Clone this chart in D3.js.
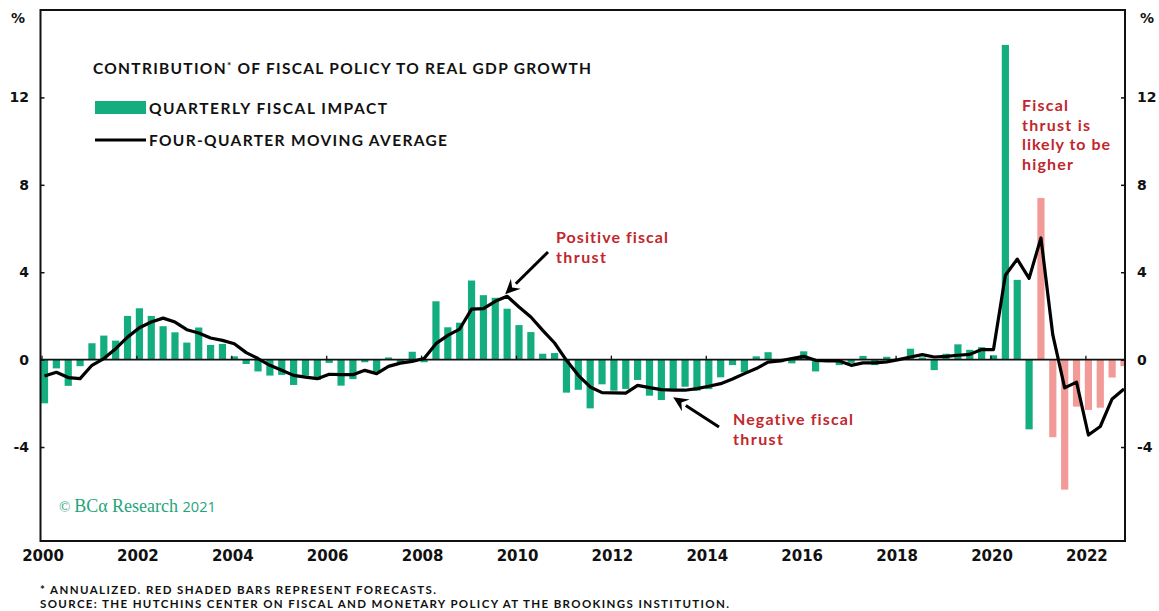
<!DOCTYPE html>
<html>
<head>
<meta charset="utf-8">
<script src="https://cdn.jsdelivr.net/npm/d3@7"></script>
<style>
  body { margin: 0; background: #ffffff; }
  svg { display: block; }
</style>
</head>
<body>
<svg id="chart" width="1159" height="611"></svg>
<script>
// Quarterly periods, 2000Q1 .. 2022Q4 (decimal years)
const startYear = 2000;
const quarterCount = 92;
const quarters = d3.range(quarterCount).map(i => startYear + i / 4);

// Quarterly fiscal impact, % annualized
const fiscalImpact = [
  -2.0, -0.4, -1.2, -0.3,     // 2000
  0.75, 1.1, 0.87, 2.0,       // 2001
  2.35, 2.0, 1.53, 1.25,      // 2002
  0.78, 1.47, 0.67, 0.72,     // 2003
  0.15, -0.2, -0.54, -0.73,   // 2004
  -0.7, -1.16, -0.73, -0.93,  // 2005
  -0.15, -1.19, -0.89, -0.12, // 2006
  -0.55, 0.1, -0.12, 0.36,    // 2007
  -0.12, 2.67, 1.48, 1.69,    // 2008
  3.62, 2.95, 2.83, 2.33,     // 2009
  1.58, 1.26, 0.27, 0.3,      // 2010
  -1.51, -1.38, -2.23, -1.13, // 2011
  -1.42, -1.34, -0.93, -1.65, // 2012
  -1.85, -1.39, -1.24, -1.42, // 2013
  -1.35, -0.81, -0.25, -0.58, // 2014
  0.15, 0.34, -0.12, -0.17,   // 2015
  0.38, -0.54, -0.1, -0.25,   // 2016
  -0.15, 0.17, -0.25, 0.13,   // 2017
  0.05, 0.5, 0.1, -0.48,      // 2018
  0.27, 0.7, 0.45, 0.57,      // 2019
  0.2, 14.4, 3.65, -3.19,     // 2020
  7.4, -3.55, -5.95, -2.15,   // 2021
  -2.3, -2.2, -0.82, -0.3     // 2022
];

// Four-quarter moving average, %
const movingAverage = [
  -0.75, -0.58, -0.82, -0.87,
  -0.26, 0.05, 0.5, 1.03,
  1.46, 1.72, 1.9, 1.72,
  1.37, 1.22, 0.99, 0.88,
  0.73, 0.32, 0.05, -0.26,
  -0.49, -0.72, -0.8, -0.87,
  -0.67, -0.69, -0.69, -0.49,
  -0.64, -0.31, -0.16, -0.08,
  0.05, 0.73, 1.11, 1.4,
  2.31, 2.33, 2.67, 2.9,
  2.41, 1.95, 1.34, 0.76,
  -0.03, -0.72, -1.25, -1.51,
  -1.52, -1.53, -1.18, -1.28,
  -1.37, -1.4, -1.4, -1.33,
  -1.22, -1.1, -0.89, -0.64,
  -0.41, -0.11, -0.06, 0.05,
  0.15, -0.03, -0.06, -0.06,
  -0.26, -0.15, -0.15, -0.1,
  0.0, 0.12, 0.23, 0.12,
  0.15, 0.2, 0.24, 0.46,
  0.46, 3.86, 4.6, 3.72,
  5.57, 1.13, -1.29, -1.03,
  -3.45, -3.06, -1.8, -1.34
];

// Bars from this quarter on are forecasts
const forecastStart = 2021;

const yTicks = [-4, 0, 4, 8, 12];
const yearTicks = d3.range(2000, 2023, 2);

const legendLabels = ["QUARTERLY FISCAL IMPACT", "FOUR-QUARTER MOVING AVERAGE"];
const footnotes = [
  "* ANNUALIZED. RED SHADED BARS REPRESENT FORECASTS.",
  "SOURCE: THE HUTCHINS CENTER ON FISCAL AND MONETARY POLICY AT THE BROOKINGS INSTITUTION."
];
const positiveNote = ["Positive fiscal", "thrust"];
const negativeNote = ["Negative fiscal", "thrust"];
const forecastNote = ["Fiscal", "thrust is", "likely to be", "higher"];

// ---- layout ----
const frame = { left: 40.5, right: 1125, top: 10, bottom: 541 };
const green = "#14ad80";
const pink = "#f29a98";
const red = "#c1272d";
const ink = "#111111";

const svg = d3.select("#chart");

// spread a text's letters so that it spans the given width
function fitWidth(sel, width) {
  sel.each(function () {
    const n = this.getNumberOfChars();
    const w = this.getComputedTextLength();
    if (n > 1) d3.select(this).attr("letter-spacing", Math.max(0, (width - w) / (n - 1)));
  });
}

const x = d3.scaleLinear()
  .domain([2000, 2023])
  .range([41.5, 41.5 + 23 * 47.45]);
const y = d3.scaleLinear()
  .domain([-8.3, 16])
  .range([frame.bottom, frame.top]);

const barW = 7.2;
const barX = t => x(t) - 0.6;
const centerX = t => barX(t) + barW / 2;

const rows = quarters.map((t, i) => ({ t, v: fiscalImpact[i], ma: movingAverage[i] }));

svg.append("defs").append("clipPath").attr("id", "plotClip")
  .append("rect")
  .attr("x", frame.left).attr("y", frame.top)
  .attr("width", frame.right - frame.left).attr("height", frame.bottom - frame.top);

const plot = svg.append("g").attr("clip-path", "url(#plotClip)");

// bars
plot.append("g").selectAll("rect")
  .data(rows)
  .join("rect")
  .attr("x", d => barX(d.t))
  .attr("width", barW)
  .attr("y", d => y(Math.max(0, d.v)))
  .attr("height", d => Math.abs(y(d.v) - y(0)))
  .attr("fill", d => d.t >= forecastStart ? pink : green);

// zero line with year ticks
const xAxis = d3.axisTop(x)
  .tickValues(yearTicks)
  .tickSize(4)
  .tickFormat("");
const zeroAxis = plot.append("g")
  .attr("transform", `translate(0,${y(0)})`)
  .call(xAxis);
zeroAxis.select(".domain").remove();
zeroAxis.selectAll(".tick line").attr("stroke", ink).attr("stroke-width", 1.3);
plot.append("line")
  .attr("x1", frame.left).attr("x2", frame.right)
  .attr("y1", y(0)).attr("y2", y(0))
  .attr("stroke", ink).attr("stroke-width", 1.6);

// moving-average line
const line = d3.line()
  .x(d => centerX(d.t))
  .y(d => y(d.ma));
plot.append("path")
  .datum(rows)
  .attr("d", line)
  .attr("fill", "none")
  .attr("stroke", "#000")
  .attr("stroke-width", 3.2)
  .attr("stroke-linejoin", "round");

// frame
svg.append("rect")
  .attr("x", frame.left).attr("y", frame.top)
  .attr("width", frame.right - frame.left).attr("height", frame.bottom - frame.top)
  .attr("fill", "none").attr("stroke", ink).attr("stroke-width", 2);

// y axes (left and right), inward ticks, labels outside
const axisFont = "'DejaVu Sans', sans-serif";
const leftAxis = d3.axisRight(y).tickValues(yTicks).tickSize(4).tickFormat("");
svg.append("g").attr("transform", `translate(${frame.left},0)`).call(leftAxis)
  .call(g => g.select(".domain").remove())
  .call(g => g.selectAll(".tick line").attr("stroke", ink).attr("stroke-width", 1.5));
const rightAxis = d3.axisLeft(y).tickValues(yTicks).tickSize(4).tickFormat("");
svg.append("g").attr("transform", `translate(${frame.right},0)`).call(rightAxis)
  .call(g => g.select(".domain").remove())
  .call(g => g.selectAll(".tick line").attr("stroke", ink).attr("stroke-width", 1.5));

svg.append("g").selectAll("text")
  .data(yTicks)
  .join("text")
  .attr("x", 29)
  .attr("y", d => y(d) + 5)
  .attr("text-anchor", "end")
  .attr("font-family", axisFont).attr("font-weight", "bold").attr("font-size", 14)
  .attr("fill", ink)
  .text(d => d);
svg.append("g").selectAll("text")
  .data(yTicks)
  .join("text")
  .attr("x", 1137)
  .attr("y", d => y(d) + 5)
  .attr("text-anchor", "start")
  .attr("font-family", axisFont).attr("font-weight", "bold").attr("font-size", 14)
  .attr("fill", ink)
  .text(d => d);
svg.append("text").attr("x", 11).attr("y", 23)
  .attr("font-family", axisFont).attr("font-weight", "bold").attr("font-size", 14)
  .attr("fill", ink).text("%");
svg.append("text").attr("x", 1140).attr("y", 23)
  .attr("font-family", axisFont).attr("font-weight", "bold").attr("font-size", 14)
  .attr("fill", ink).text("%");

// year labels below the frame
svg.append("g").selectAll("text")
  .data(yearTicks)
  .join("text")
  .attr("x", d => x(d) + 1.5)
  .attr("y", 561)
  .attr("text-anchor", "middle")
  .attr("font-family", axisFont).attr("font-weight", "bold").attr("font-size", 15)
  .attr("fill", ink)
  .text(d => d);

// title and legend
const headFont = "Lato, sans-serif";
const title = svg.append("text")
  .attr("x", 93).attr("y", 74)
  .attr("font-family", headFont).attr("font-weight", 700).attr("font-size", 15.5)
  .attr("fill", ink);
title.append("tspan").text("CONTRIBUTION");
title.append("tspan").attr("font-size", 10).attr("dy", -5).text("*");
title.append("tspan").attr("dy", 5).text(" OF FISCAL POLICY TO REAL GDP GROWTH");
fitWidth(title, 498);

svg.append("rect")
  .attr("x", 95).attr("y", 101).attr("width", 51).attr("height", 13)
  .attr("fill", green);
svg.append("line")
  .attr("x1", 95).attr("x2", 146).attr("y1", 140).attr("y2", 140)
  .attr("stroke", "#000").attr("stroke-width", 3);
const legendWidths = [238, 298];
svg.append("g").selectAll("text")
  .data(legendLabels)
  .join("text")
  .attr("x", 149)
  .attr("y", (d, i) => 113.5 + i * 32)
  .attr("font-family", headFont).attr("font-weight", 700).attr("font-size", 15.5)
  .attr("fill", ink)
  .text(d => d)
  .each(function (d, i) { fitWidth(d3.select(this), legendWidths[i]); });

// annotations
function note(lines, widths, x0, y0, step) {
  svg.append("g").selectAll("text")
    .data(lines)
    .join("text")
    .attr("x", x0)
    .attr("y", (d, i) => y0 + i * step)
    .attr("font-family", headFont).attr("font-weight", 700).attr("font-size", 16)
    .attr("fill", red)
    .text(d => d)
    .each(function (d, i) { fitWidth(d3.select(this), widths[i]); });
}
note(positiveNote, [112, 50], 556, 243, 20);
note(negativeNote, [120, 50], 733, 425, 20);
note(forecastNote, [46, 68, 88, 51], 1022, 111, 19.5);

function arrow(x1, y1, x2, y2) {
  const ang = Math.atan2(y2 - y1, x2 - x1);
  const len = 15, half = 7;
  const bx = x2 - len * Math.cos(ang), by = y2 - len * Math.sin(ang);
  svg.append("line")
    .attr("x1", x1).attr("y1", y1).attr("x2", bx).attr("y2", by)
    .attr("stroke", "#000").attr("stroke-width", 3);
  const px = -Math.sin(ang), py = Math.cos(ang);
  svg.append("path")
    .attr("d", `M${x2},${y2} L${bx + px * half},${by + py * half} L${x2 - 0.65 * len * Math.cos(ang)},${y2 - 0.65 * len * Math.sin(ang)} L${bx - px * half},${by - py * half} Z`)
    .attr("fill", "#000");
}
// arrows point at the moving-average line
arrow(548, 252, centerX(2009.75) - 2, y(2.9) - 2);
arrow(719, 427, centerX(2013.25), y(-1.4) + 7);

// credit
const credit = svg.append("text")
  .attr("x", 59).attr("y", 512)
  .attr("font-family", "'Liberation Serif', serif").attr("font-size", 18)
  .attr("fill", "#1fa57b");
credit.append("tspan").attr("font-size", 15).text("© ");
credit.append("tspan").text("BCα Research ");
credit.append("tspan").attr("font-family", "'Open Sans', sans-serif").attr("font-size", 14.5).text("2021");

// footnotes
const footWidths = [396, 689];
svg.append("g").selectAll("text")
  .data(footnotes)
  .join("text")
  .attr("x", 40)
  .attr("y", (d, i) => 594 + i * 14)
  .attr("font-family", headFont).attr("font-weight", 700).attr("font-size", 11.5)
  .attr("fill", ink)
  .text(d => d)
  .each(function (d, i) { fitWidth(d3.select(this), footWidths[i]); });
</script>
</body>
</html>
